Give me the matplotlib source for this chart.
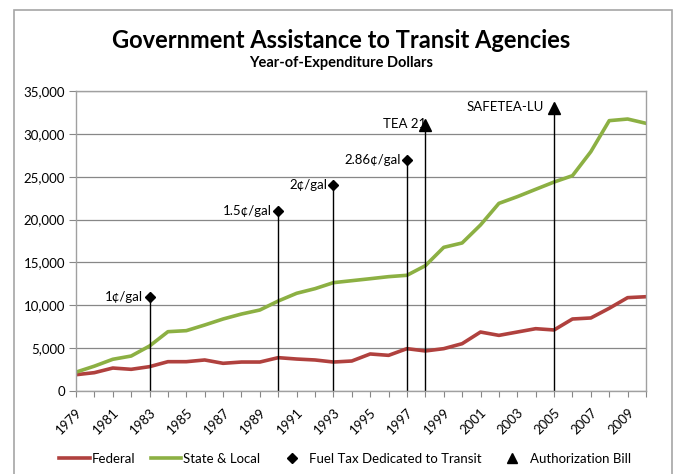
import numpy as np
import matplotlib.pyplot as plt
import matplotlib.transforms as mtransforms
from matplotlib.lines import Line2D
from matplotlib.patches import Rectangle
from matplotlib.ticker import FuncFormatter

plt.rcParams['font.family'] = ['Lato', 'DejaVu Sans']

years = list(range(1979, 2011))
federal = [1900, 2140, 2680, 2530, 2840, 3420, 3420, 3620, 3230, 3380, 3380,
           3890, 3730, 3620, 3380, 3500, 4320, 4160, 4940, 4670, 4940, 5520,
           6880, 6490, 6880, 7270, 7120, 8400, 8520, 9650, 10890, 11000]
state_local = [2200, 2900, 3700, 4080, 5250, 6920, 7040, 7700, 8400, 8980, 9450,
               10500, 11400, 11940, 12640, 12870, 13100, 13340, 13500, 14620,
               16760, 17270, 19370, 21890, 22670, 23530, 24380, 25120, 27920,
               31540, 31730, 31230]

fuel_years = [1983, 1990, 1993, 1997]
fuel_vals = [11000, 21000, 24000, 27000]
fuel_labels = ['1\u00a2/gal', '1.5\u00a2/gal', '2\u00a2/gal', '2.86\u00a2/gal']

bill_years = [1998, 2005]
bill_vals = [31000, 33000]
bill_labels = ['TEA 21', 'SAFETEA-LU']

red = '#B0413E'
green = '#8CB043'
grid = '#878787'

fig = plt.figure(figsize=(6.76, 4.74), dpi=100)
ax = fig.add_axes([76/676, 1-391/474, 570/676, 300/474])

# outer chart border
fig.patches.append(Rectangle((14/676, -0.05), 658/676, 1.05-10/474,
                             transform=fig.transFigure, fill=False,
                             edgecolor='#A6A6A6', linewidth=1.2))

ax.plot(years, federal, color=red, lw=2.6, solid_joinstyle='round')
ax.plot(years, state_local, color=green, lw=2.6, solid_joinstyle='round')

ax.vlines(fuel_years, 0, fuel_vals, color='black', lw=1)
ax.plot(fuel_years, fuel_vals, 'D', color='black', ms=5.5, ls='none')
for x, y, t in zip(fuel_years, fuel_vals, fuel_labels):
    ax.text(x - 0.35, y, t, ha='right', va='center', fontsize=9.5)

ax.vlines(bill_years, 0, bill_vals, color='black', lw=1)
ax.plot(bill_years, bill_vals, '^', color='black', ms=8, ls='none')
ax.text(bill_years[0] + 0.05, bill_vals[0] + 150, bill_labels[0],
        ha='right', va='center', fontsize=9.5)
ax.text(bill_years[1] - 0.55, bill_vals[1] + 150, bill_labels[1],
        ha='right', va='center', fontsize=9.5)

ax.set_xlim(1979, 2010)
ax.set_ylim(0, 35000)
ax.set_yticks(range(0, 35001, 5000))
ax.yaxis.set_major_formatter(FuncFormatter(lambda v, p: f'{int(v):,}'))
ax.set_xticks(years, minor=False)
ax.set_xticklabels([str(y) if (y - 1979) % 2 == 0 else '' for y in years],
                   rotation=45, ha='right', rotation_mode='anchor')
shift = mtransforms.ScaledTranslation(4/100, 0, fig.dpi_scale_trans)
for lab in ax.get_xticklabels():
    lab.set_transform(lab.get_transform() + shift)
ax.tick_params(axis='x', length=4, color=grid, labelsize=9.5, pad=7)
ax.tick_params(axis='y', length=5, color=grid, labelsize=9.5, pad=3)
ax.grid(axis='y', color=grid, lw=0.9)
ax.set_axisbelow(True)
for s in ax.spines.values():
    s.set_color('#A0A0A0')
    s.set_linewidth(1)

fig.text(0.505, 1-40/474, 'Government Assistance to Transit Agencies',
         ha='center', va='center', fontsize=17, fontweight='bold')
fig.text(0.505, 1-63/474, 'Year-of-Expenditure Dollars',
         ha='center', va='center', fontsize=10.5, fontweight='bold')

handles = [Line2D([], [], color=red, lw=2.6),
           Line2D([], [], color=green, lw=2.6),
           Line2D([], [], color='black', marker='D', ls='none', ms=5.5),
           Line2D([], [], color='black', marker='^', ls='none', ms=7)]
fig.legend(handles, ['Federal', 'State & Local', 'Fuel Tax Dedicated to Transit',
                     'Authorization Bill'],
           loc='center', bbox_to_anchor=(345/676, 1-459/474), ncol=4, frameon=False,
           fontsize=9.5, handlelength=2.3, handletextpad=0.15, columnspacing=1.2)

fig.savefig('out.png', dpi=100)
